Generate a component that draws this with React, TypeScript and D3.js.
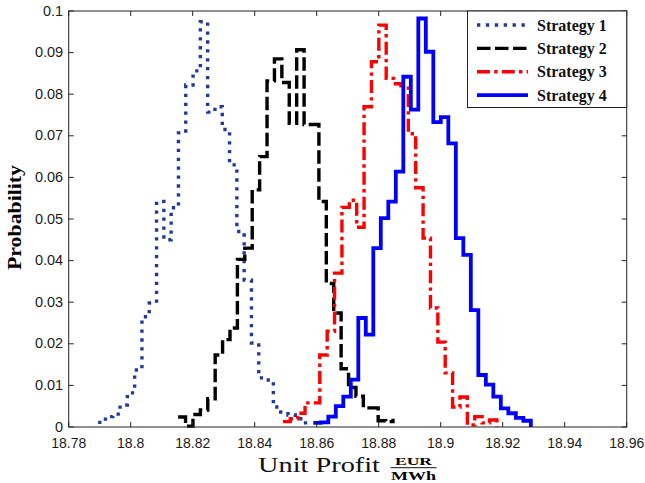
import * as d3 from 'd3';
import React, { useEffect, useRef } from 'react';

// tick labels
const xTicks = [18.78, 18.8, 18.82, 18.84, 18.86, 18.88, 18.9, 18.92, 18.94, 18.96];
const yTicks = [0, 0.01, 0.02, 0.03, 0.04, 0.05, 0.06, 0.07, 0.08, 0.09, 0.1];

const names = ['Strategy 1', 'Strategy 2', 'Strategy 3', 'Strategy 4'];

// histogram bins: first bin centre and bin width for each strategy
const binStart = [18.7895, 18.8153, 18.8491, 18.8589];
const binWidth = [0.002355, 0.00239, 0.00238, 0.00242];

// probability of each bin
const strategy1 = [0.0011, 0.0025, 0.0031, 0.0053, 0.0082, 0.0137, 0.0265, 0.0298, 0.0542, 0.045,
  0.0527, 0.0707, 0.0822, 0.0856, 0.0974, 0.0757, 0.077, 0.0715, 0.063, 0.047,
  0.0353, 0.0202, 0.0118, 0.0113, 0.0048, 0.0036, 0.0029, 0.002, 0.001, 0.0003];
const strategy2 = [0.0024, 0.0002, 0.003, 0.0041, 0.0068, 0.0173, 0.021, 0.0238, 0.0403, 0.043,
  0.057, 0.065, 0.0832, 0.0885, 0.0828, 0.073, 0.0907, 0.0727, 0.0727, 0.0542,
  0.0345, 0.0274, 0.014, 0.0095, 0.0074, 0.0046, 0.0046, 0.0015, 0.0013, 0.002];
const strategy3 = [0.0013, 0.002, 0.0033, 0.0058, 0.0058, 0.0173, 0.023, 0.037, 0.0528, 0.0545,
  0.048, 0.077, 0.0878, 0.0966, 0.0838, 0.0825, 0.082, 0.0705, 0.0575, 0.0454,
  0.0286, 0.0204, 0.013, 0.0048, 0.0072, 0.0005, 0.0025, 0.001, 0.0017, 0];
const strategy4 = [0.001, 0.0011, 0.0025, 0.005, 0.0073, 0.0114, 0.0262, 0.0222, 0.043, 0.0502,
  0.0542, 0.0614, 0.0842, 0.0763, 0.0982, 0.0902, 0.0733, 0.0745, 0.0682, 0.0454,
  0.0414, 0.0281, 0.0125, 0.0102, 0.0073, 0.0045, 0.0033, 0.0022, 0.0015, 0];

const series = [strategy1, strategy2, strategy3, strategy4];

const colors = ['#20399a', '#000000', '#ff0000', '#0000ff'];
const dashes = ['3.3,5.6', '13.5,4.5', '13,4.2,3.4,4.2', null];
const widths = [3.4, 3.4, 3.4, 3.8];

const App = () => {
  const ref = useRef<SVGSVGElement>(null);

  useEffect(() => {
    const svg = d3.select(ref.current);
    svg.selectAll('*').remove();

    const x = d3.scaleLinear().domain([18.78, 18.96]).range([68.7, 626.7]);
    const y = d3.scaleLinear().domain([0, 0.1]).range([427, 11]);

    const left = x(18.78), right = x(18.96), top = y(0.1), bottom = y(0);

    svg.append('rect')
      .attr('x', 0).attr('y', 0).attr('width', 645).attr('height', 483)
      .attr('fill', '#fff');

    // curves (stairs)
    series.forEach((vals, k) => {
      const line = d3.line<number>()
        .x((d, i) => x(binStart[k] + i * binWidth[k]))
        .y(d => y(d))
        .curve(d3.curveStepAfter);
      const p = svg.append('path')
        .attr('d', line(vals))
        .attr('fill', 'none')
        .attr('stroke', colors[k])
        .attr('stroke-width', widths[k]);
      if (dashes[k]) p.attr('stroke-dasharray', dashes[k]);
    });

    // box
    svg.append('rect')
      .attr('x', left).attr('y', top)
      .attr('width', right - left).attr('height', bottom - top)
      .attr('fill', 'none').attr('stroke', '#222').attr('stroke-width', 1);

    const tl = 5;
    const g = svg.append('g').attr('stroke', '#222').attr('stroke-width', 1);
    xTicks.forEach(t => {
      g.append('line').attr('x1', x(t)).attr('x2', x(t)).attr('y1', bottom).attr('y2', bottom - tl);
      g.append('line').attr('x1', x(t)).attr('x2', x(t)).attr('y1', top).attr('y2', top + tl);
    });
    yTicks.forEach(t => {
      g.append('line').attr('x1', left).attr('x2', left + tl).attr('y1', y(t)).attr('y2', y(t));
      g.append('line').attr('x1', right).attr('x2', right - tl).attr('y1', y(t)).attr('y2', y(t));
    });

    svg.append('g').selectAll('text').data(xTicks).enter().append('text')
      .attr('x', d => x(d)).attr('y', bottom + 20.5)
      .attr('text-anchor', 'middle')
      .attr('font-family', 'Liberation Sans, Arial, sans-serif')
      .attr('font-size', 14).attr('fill', '#1a1a1a')
      .text(d => String(+d.toFixed(2)));

    svg.append('g').selectAll('text').data(yTicks).enter().append('text')
      .attr('x', left - 5.5).attr('y', d => y(d) + 4.5)
      .attr('text-anchor', 'end')
      .attr('font-family', 'Liberation Sans, Arial, sans-serif')
      .attr('font-size', 14.5).attr('fill', '#1a1a1a')
      .text(d => String(+d.toFixed(2)));

    // axis titles
    svg.append('text')
      .attr('transform', 'translate(21,217.5) rotate(-90)')
      .attr('text-anchor', 'middle')
      .attr('font-family', 'Liberation Serif, Times New Roman, serif')
      .attr('font-weight', 'bold').attr('font-size', 19)
      .attr('textLength', 105).attr('lengthAdjust', 'spacingAndGlyphs')
      .text('Probability');

    svg.append('text')
      .attr('x', 258).attr('y', 472)
      .attr('font-family', 'Liberation Serif, Times New Roman, serif')
      .attr('font-size', 21).attr('fill', '#111')
      .attr('textLength', 122).attr('lengthAdjust', 'spacingAndGlyphs')
      .text('Unit  Profit');
    svg.append('text')
      .attr('x', 413.5).attr('y', 464.5).attr('text-anchor', 'middle')
      .attr('font-family', 'Liberation Serif, Times New Roman, serif')
      .attr('font-weight', 'bold').attr('font-size', 11)
      .attr('textLength', 37).attr('lengthAdjust', 'spacingAndGlyphs')
      .text('EUR');
    svg.append('line')
      .attr('x1', 390.5).attr('x2', 436.5).attr('y1', 467.7).attr('y2', 467.7)
      .attr('stroke', '#111').attr('stroke-width', 1);
    svg.append('text')
      .attr('x', 413.5).attr('y', 480).attr('text-anchor', 'middle')
      .attr('font-family', 'Liberation Serif, Times New Roman, serif')
      .attr('font-weight', 'bold').attr('font-size', 11.5)
      .attr('textLength', 45).attr('lengthAdjust', 'spacingAndGlyphs')
      .text('MWh');

    // legend
    const lg = svg.append('g');
    lg.append('rect')
      .attr('x', 467.5).attr('y', top).attr('width', right - 467.5).attr('height', 96.5)
      .attr('fill', '#fff').attr('stroke', '#222').attr('stroke-width', 1);
    names.forEach((n, k) => {
      const cy = 25 + k * 23.4;
      const l = lg.append('line')
        .attr('x1', 477).attr('x2', 528).attr('y1', cy).attr('y2', cy)
        .attr('stroke', colors[k]).attr('stroke-width', widths[k]);
      if (dashes[k]) l.attr('stroke-dasharray', dashes[k]);
      lg.append('text')
        .attr('x', 537).attr('y', cy + 5.5)
        .attr('font-family', 'Liberation Serif, Times New Roman, serif')
        .attr('font-weight', 'bold').attr('font-size', 16).attr('fill', '#111')
        .text(n);
    });
  }, []);

  return (
    <svg ref={ref} width={645} height={483}
      style={{ position: 'absolute', left: 0, top: 0, display: 'block' }} />
  );
};

export default App;
